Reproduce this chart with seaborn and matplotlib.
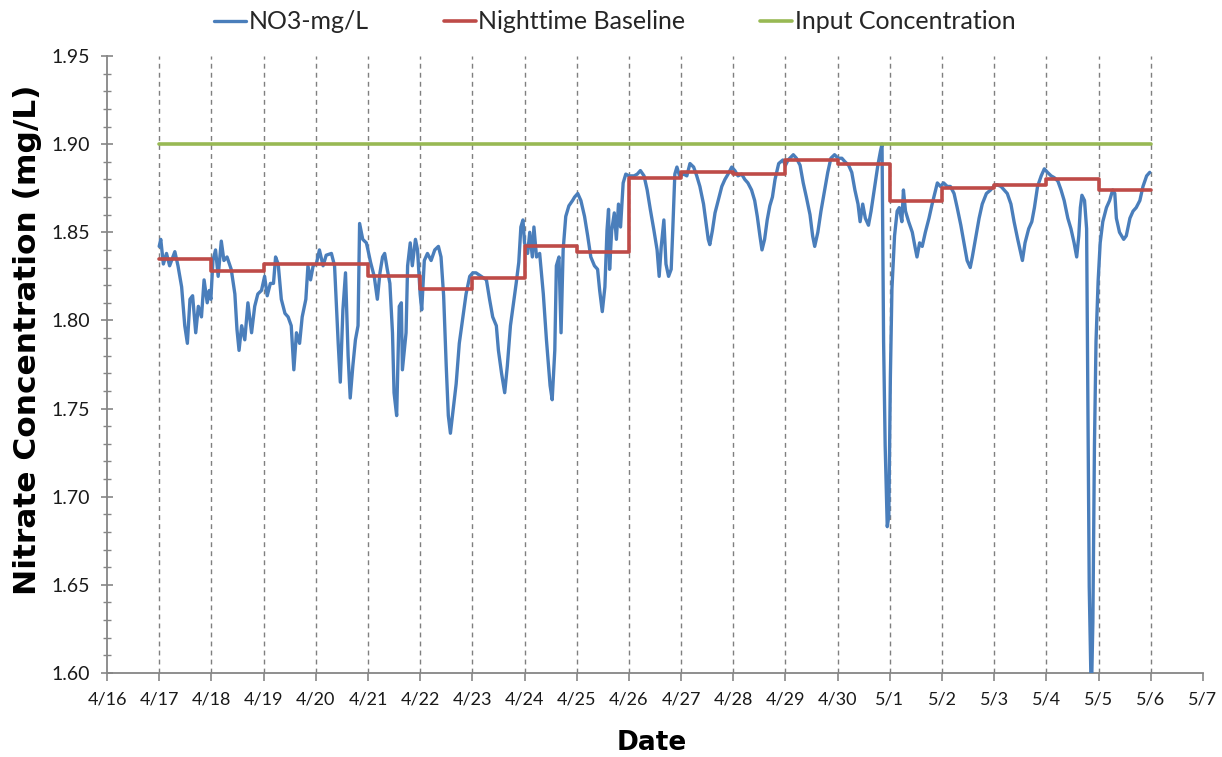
import matplotlib
matplotlib.use("Agg")
import matplotlib.pyplot as plt
import seaborn as sns
import pandas as pd
from matplotlib.ticker import MultipleLocator

# ---------------- data ----------------
# x positions are days after 4/17 (0 = 4/17, 19 = 5/6)
day_labels = ['4/16', '4/17', '4/18', '4/19', '4/20', '4/21', '4/22', '4/23', '4/24',
              '4/25', '4/26', '4/27', '4/28', '4/29', '4/30', '5/1', '5/2', '5/3',
              '5/4', '5/5', '5/6', '5/7']

no3_day = [
    0.00, 0.03, 0.08, 0.14, 0.20, 0.30, 0.36, 0.43, 0.49, 0.54, 0.59, 0.64, 0.70, 0.75, 0.81, 0.86, 0.92, 0.96, 0.99,
    1.03, 1.08, 1.13, 1.19, 1.24, 1.30, 1.38, 1.45, 1.49, 1.53, 1.58, 1.64, 1.70, 1.77, 1.83, 1.89, 1.96,
    2.02, 2.07, 2.13, 2.19, 2.23, 2.28, 2.34, 2.41, 2.47, 2.53, 2.58, 2.63, 2.69, 2.74, 2.81, 2.85, 2.90, 2.95,
    3.01, 3.07, 3.14, 3.20, 3.30, 3.36, 3.43, 3.47, 3.52, 3.57, 3.62, 3.66, 3.71, 3.76, 3.81, 3.84, 3.90, 3.97,
    4.00, 4.05, 4.12, 4.18, 4.23, 4.28, 4.32, 4.37, 4.42, 4.47, 4.50, 4.55, 4.60, 4.64, 4.66, 4.73, 4.76, 4.81, 4.85, 4.91, 4.95, 5.00,
    5.03, 5.08, 5.14, 5.21, 5.28, 5.35, 5.40, 5.45, 5.50, 5.54, 5.58, 5.62, 5.69, 5.75, 5.82, 5.88, 5.95, 6.01,
    6.07, 6.17, 6.27, 6.33, 6.39, 6.46, 6.50, 6.56, 6.62, 6.67, 6.73, 6.80, 6.84, 6.89, 6.93, 6.97, 7.00,
    7.06, 7.10, 7.15, 7.18, 7.23, 7.29, 7.36, 7.42, 7.49, 7.53, 7.58, 7.61, 7.66, 7.70, 7.74, 7.79, 7.85, 7.92,
    7.96, 8.02, 8.08, 8.15, 8.21, 8.27, 8.34, 8.40, 8.44, 8.49, 8.54, 8.58, 8.61, 8.63, 8.67, 8.72, 8.76, 8.80, 8.84, 8.89, 8.94, 9.00,
    9.10, 9.16, 9.22, 9.29, 9.35, 9.41, 9.48, 9.54, 9.58, 9.62, 9.67, 9.71, 9.76, 9.81, 9.84, 9.88, 9.92, 9.97,
    10.05, 10.11, 10.17, 10.24, 10.30, 10.36, 10.43, 10.48, 10.52, 10.55, 10.60, 10.65, 10.71, 10.78, 10.84, 10.90, 10.97,
    11.03, 11.09, 11.16, 11.22, 11.28, 11.35, 11.41, 11.46, 11.51, 11.55, 11.60, 11.65, 11.70, 11.75, 11.80, 11.87, 11.95,
    12.00, 12.05, 12.15, 12.21, 12.28, 12.34, 12.40, 12.47, 12.52, 12.56, 12.62, 12.68, 12.74, 12.81, 12.87, 12.94,
    13.01, 13.08, 13.14, 13.21, 13.27, 13.33, 13.39, 13.43, 13.48, 13.53, 13.59, 13.64, 13.71, 13.77, 13.82, 13.85,
    13.88, 13.91, 13.95, 13.98, 14.01, 14.04, 14.09, 14.14, 14.18, 14.23, 14.26, 14.30, 14.36, 14.43, 14.48, 14.52,
    14.57, 14.62, 14.68, 14.75, 14.81, 14.86, 14.91, 14.97,
    15.03, 15.10, 15.16, 15.23, 15.29, 15.36, 15.42, 15.48, 15.54, 15.58, 15.64, 15.71, 15.77, 15.85, 15.93, 15.99,
    16.05, 16.13, 16.19, 16.25, 16.32, 16.38, 16.45, 16.51, 16.54, 16.59, 16.66, 16.72, 16.77, 16.83, 16.90, 16.96, 17.02,
    17.09, 17.15, 17.22, 17.28, 17.34, 17.41, 17.47, 17.53, 17.58, 17.62, 17.65, 17.68, 17.73, 17.77, 17.79, 17.82,
    17.86, 17.89, 17.92, 17.95, 17.99, 18.03, 18.08, 18.15, 18.21, 18.27, 18.31, 18.34, 18.40, 18.48, 18.53, 18.60,
    18.66, 18.72, 18.79, 18.85, 18.92, 18.98,
]

no3_val = [
    1.842, 1.846, 1.832, 1.838, 1.831, 1.839, 1.831, 1.819, 1.797, 1.787, 1.812, 1.814, 1.793, 1.808, 1.802, 1.823, 1.810, 1.817, 1.812,
    1.834, 1.840, 1.825, 1.845, 1.834, 1.836, 1.829, 1.815, 1.795, 1.783, 1.797, 1.789, 1.810, 1.793, 1.808, 1.815, 1.817,
    1.825, 1.814, 1.821, 1.821, 1.836, 1.832, 1.812, 1.804, 1.802, 1.797, 1.772, 1.793, 1.787, 1.802, 1.812, 1.831, 1.823, 1.831,
    1.832, 1.840, 1.831, 1.837, 1.838, 1.831, 1.787, 1.765, 1.806, 1.827, 1.780, 1.756, 1.774, 1.789, 1.797, 1.855, 1.846, 1.844,
    1.840, 1.833, 1.825, 1.812, 1.827, 1.836, 1.838, 1.829, 1.821, 1.793, 1.759, 1.746, 1.808, 1.810, 1.772, 1.793, 1.831, 1.844, 1.831, 1.846, 1.840, 1.815,
    1.806, 1.834, 1.838, 1.834, 1.840, 1.842, 1.836, 1.814, 1.774, 1.746, 1.736, 1.746, 1.764, 1.787, 1.802, 1.815, 1.825, 1.827,
    1.827, 1.825, 1.823, 1.812, 1.802, 1.797, 1.783, 1.770, 1.759, 1.774, 1.797, 1.812, 1.821, 1.833, 1.853, 1.857, 1.844,
    1.838, 1.850, 1.836, 1.853, 1.836, 1.838, 1.815, 1.789, 1.763, 1.755, 1.783, 1.831, 1.836, 1.793, 1.840, 1.859, 1.865, 1.868,
    1.870, 1.872, 1.868, 1.859, 1.848, 1.836, 1.831, 1.829, 1.817, 1.805, 1.819, 1.851, 1.863, 1.829, 1.851, 1.861, 1.846, 1.866, 1.853, 1.878, 1.883, 1.882,
    1.882, 1.883, 1.885, 1.882, 1.874, 1.863, 1.851, 1.840, 1.825, 1.842, 1.857, 1.832, 1.825, 1.829, 1.851, 1.883, 1.887, 1.882,
    1.883, 1.882, 1.889, 1.887, 1.882, 1.876, 1.866, 1.855, 1.846, 1.843, 1.851, 1.861, 1.868, 1.876, 1.880, 1.883, 1.887,
    1.885, 1.882, 1.883, 1.880, 1.878, 1.874, 1.868, 1.859, 1.848, 1.840, 1.846, 1.857, 1.865, 1.870, 1.880, 1.889, 1.891,
    1.888, 1.891, 1.894, 1.892, 1.888, 1.878, 1.870, 1.860, 1.848, 1.842, 1.850, 1.862, 1.872, 1.884, 1.892, 1.894,
    1.892, 1.892, 1.890, 1.888, 1.884, 1.874, 1.866, 1.856, 1.866, 1.858, 1.854, 1.862, 1.876, 1.888, 1.896, 1.900,
    1.788, 1.729, 1.683, 1.689, 1.768, 1.818, 1.848, 1.862, 1.864, 1.856, 1.874, 1.862, 1.856, 1.850, 1.842, 1.836,
    1.844, 1.842, 1.850, 1.858, 1.866, 1.872, 1.878, 1.876,
    1.878, 1.876, 1.876, 1.872, 1.864, 1.854, 1.844, 1.834, 1.830, 1.836, 1.846, 1.858, 1.866, 1.872, 1.874, 1.876,
    1.877, 1.876, 1.874, 1.872, 1.866, 1.856, 1.846, 1.838, 1.834, 1.844, 1.852, 1.856, 1.864, 1.876, 1.882, 1.886, 1.884,
    1.882, 1.881, 1.879, 1.874, 1.868, 1.858, 1.852, 1.844, 1.836, 1.848, 1.864, 1.871, 1.868, 1.852, 1.768, 1.649,
    1.585, 1.629, 1.729, 1.788, 1.822, 1.844, 1.856, 1.864, 1.868, 1.874, 1.872, 1.858, 1.850, 1.846, 1.848, 1.858,
    1.862, 1.864, 1.868, 1.876, 1.882, 1.884,
]

# nighttime baseline: one level per day, 4/17 .. 5/5, last value repeated at 5/6
base_day = list(range(0, 20))
base_val = [1.835, 1.828, 1.832, 1.832, 1.825, 1.818, 1.824, 1.842, 1.839, 1.881,
            1.884, 1.883, 1.891, 1.889, 1.868, 1.875, 1.877, 1.880, 1.874, 1.874]

input_day = [0, 19]
input_val = [1.90, 1.90]

# ---------------- plot ----------------
sns.set_theme(style="white")
plt.rcParams['font.family'] = ['Lato', 'DejaVu Sans']

BLUE = '#4A7EBB'
RED = '#BE4B48'
GREEN = '#98B954'
GRAY = '#868686'

fig = plt.figure(figsize=(12.22, 7.57), dpi=100)
ax = fig.add_axes([107 / 1222, 1 - 673 / 757, (1203 - 107) / 1222, (673 - 56) / 757])

df_no3 = pd.DataFrame({'day': no3_day, 'val': no3_val})
df_base = pd.DataFrame({'day': base_day, 'val': base_val})
df_in = pd.DataFrame({'day': input_day, 'val': input_val})

# dashed vertical day lines
ax.vlines(base_day, 1.60, 1.95, colors='#7f7f7f', linewidth=1.0,
          linestyles=(0, (3.5, 3)), zorder=1)

sns.lineplot(data=df_no3, x='day', y='val', ax=ax, color=BLUE, linewidth=2.4,
             estimator=None, sort=False, label='NO3-mg/L', zorder=3)
sns.lineplot(data=df_base, x='day', y='val', ax=ax, color=RED, linewidth=2.6,
             estimator=None, sort=False, drawstyle='steps-post',
             label='Nighttime Baseline', zorder=4)
sns.lineplot(data=df_in, x='day', y='val', ax=ax, color=GREEN, linewidth=2.6,
             estimator=None, sort=False, label='Input Concentration', zorder=4)

ax.set_xlim(-1, 20)
ax.set_ylim(1.60, 1.95)
ax.set_xticks(range(-1, 21))
ax.set_xticklabels(day_labels)
ax.yaxis.set_major_locator(MultipleLocator(0.05))
ax.yaxis.set_minor_locator(MultipleLocator(0.01))
ax.yaxis.set_major_formatter(matplotlib.ticker.FormatStrFormatter('%.2f'))

for s in ['top', 'right']:
    ax.spines[s].set_visible(False)
for s in ['left', 'bottom']:
    ax.spines[s].set_color(GRAY)
    ax.spines[s].set_linewidth(1.3)

ax.tick_params(axis='x', which='major', direction='out', length=6, width=1.2,
               color=GRAY, labelsize=13, labelcolor='#1a1a1a', pad=7, bottom=True)
ax.tick_params(axis='y', which='major', direction='inout', length=8, width=1.2,
               color=GRAY, labelsize=14, labelcolor='#1a1a1a', pad=8, left=True)
ax.tick_params(axis='y', which='minor', direction='inout', length=6, width=1.0,
               color=GRAY, left=True)
ax.grid(False)

ax.set_xlabel('Date', fontsize=19, fontweight='bold', family='DejaVu Sans', color='black')
ax.set_ylabel('Nitrate Concentration (mg/L)', fontsize=22.5, fontweight='bold',
              family='DejaVu Sans', color='black')
ax.xaxis.set_label_coords(0.497, -0.093)
ax.yaxis.set_label_coords(-0.059, 0.54)

handles, labels = ax.get_legend_handles_labels()
ax.get_legend().remove()
fig.legend(handles, labels, loc='center', bbox_to_anchor=(0.503, 0.971), ncol=3,
           frameon=False, fontsize=18, handlelength=1.28, handletextpad=0.1,
           columnspacing=3.0)

fig.savefig('out.png', dpi=100)
